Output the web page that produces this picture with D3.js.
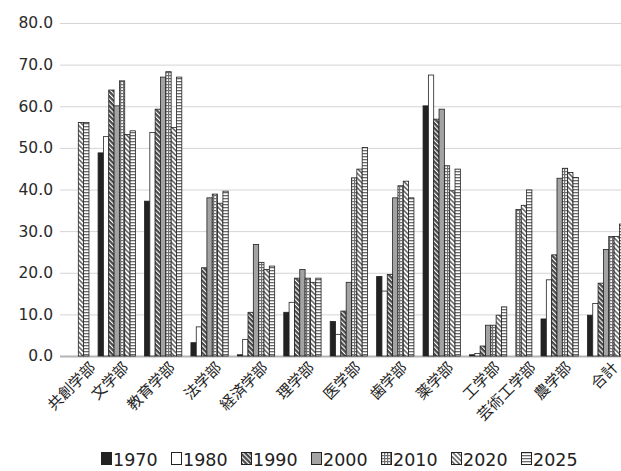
<!DOCTYPE html>
<html>
<head>
<meta charset="utf-8">
<script src="https://cdn.jsdelivr.net/npm/d3@7"></script>
<style>
  body { margin: 0; background: #fff; }
  svg { display: block; }
</style>
</head>
<body>
<svg id="chart" width="621" height="471"></svg>
<script>
// Faculties (categories) and survey years (series)
const categories = ["共創学部", "文学部", "教育学部", "法学部", "経済学部", "理学部", "医学部",
                    "歯学部", "薬学部", "工学部", "芸術工学部", "農学部", "合計"];
const years = ["1970", "1980", "1990", "2000", "2010", "2020", "2025"];

// Values per year, one entry per faculty (null = no data for that year)
const s1970 = [null, 48.8, 37.2, 3.2, 0.3, 10.5, 8.3, 19.1, 60.1, 0.3, null, 8.9, 9.8];
const s1980 = [null, 52.7, 53.7, 7.0, 4.0, 12.9, 5.2, 15.6, 67.5, 0.6, null, 18.3, 12.6];
const s1990 = [null, 63.9, 59.3, 21.2, 10.5, 18.7, 10.8, 19.6, 56.9, 2.4, null, 24.3, 17.5];
const s2000 = [null, 60.1, 67.0, 38.0, 26.8, 20.8, 17.7, 38.0, 59.3, 7.4, null, 42.7, 25.6];
const s2010 = [null, 66.1, 68.3, 38.9, 22.5, 18.7, 42.8, 40.9, 45.7, 7.4, 35.2, 45.1, 28.7];
const s2020 = [56.1, 53.2, 54.9, 36.7, 20.8, 17.7, 44.9, 42.0, 39.7, 9.8, 36.2, 44.1, 28.7];
const s2025 = [56.1, 54.1, 67.0, 39.6, 21.6, 18.7, 50.1, 38.0, 44.9, 11.8, 39.9, 42.9, 31.7];
const seriesValues = [s1970, s1980, s1990, s2000, s2010, s2020, s2025];

const yTicks = [0, 10, 20, 30, 40, 50, 60, 70, 80];

// ---- layout ----
const W = 621, H = 471;
const plotLeft = 60, plotTop = 23, plotBottom = 356;
const barW = 5.33;       // width of one bar in px
const gapUnits = 1.71;   // gap between faculty groups, in bar widths
const leadPx = 18.3;     // space before the first group

const svg = d3.select("#chart");

// ---- fills ----
const defs = svg.append("defs");
const ink = "#222";

function stripes(id, bg, fg, size, lineW, angle) {
  const p = defs.append("pattern")
    .attr("id", id)
    .attr("patternUnits", "userSpaceOnUse")
    .attr("width", size).attr("height", size)
    .attr("patternTransform", `rotate(${angle})`);
  p.append("rect").attr("width", size).attr("height", size).attr("fill", bg);
  p.append("rect").attr("x", 0).attr("y", 0).attr("width", lineW).attr("height", size).attr("fill", fg);
}
stripes("p1990", "#4a4a4a", "#ffffff", 3.4, 1.1, -45);
stripes("p2020", "#ffffff", "#6a6a6a", 3.4, 1.6, -45);
stripes("p2025", "#ffffff", "#6a6a6a", 3, 1.3, 90);
{
  const p = defs.append("pattern")
    .attr("id", "p2010")
    .attr("patternUnits", "userSpaceOnUse")
    .attr("width", 3).attr("height", 3);
  p.append("rect").attr("width", 3).attr("height", 3).attr("fill", "#ffffff");
  p.append("rect").attr("x", 0).attr("y", 0).attr("width", 3).attr("height", 1.2).attr("fill", "#707070");
  p.append("rect").attr("x", 0).attr("y", 0).attr("width", 1.2).attr("height", 3).attr("fill", "#707070");
}
const fills = ["#222222", "#ffffff", "url(#p1990)", "#a3a3a3", "url(#p2010)", "url(#p2020)", "url(#p2025)"];

// ---- scales ----
const y = d3.scaleLinear().domain([0, 80]).range([plotBottom, plotTop]);

// Each faculty only takes room for the years it has data for
const groups = [];
let cursor = 0;
categories.forEach((cat, ci) => {
  const bars = [];
  years.forEach((yr, si) => {
    const v = seriesValues[si][ci];
    if (v !== null && v !== undefined) bars.push({ cat, year: yr, si, value: v });
  });
  bars.forEach((b, k) => { b.pos = cursor + k; });
  groups.push({ cat, start: cursor, n: bars.length, bars });
  cursor += bars.length + gapUnits;
});

// x maps bar-slot units to pixels
const x = d3.scaleLinear()
  .domain([0, 1])
  .range([plotLeft + leadPx, plotLeft + leadPx + barW]);

// ---- gridlines and y labels ----
const yAxis = d3.axisLeft(y)
  .tickValues(yTicks)
  .tickFormat(d3.format(".1f"))
  .tickSize(-(W - plotLeft))
  .tickPadding(7);

const gy = svg.append("g")
  .attr("transform", `translate(${plotLeft},0)`)
  .call(yAxis);
gy.select(".domain").remove();
gy.selectAll(".tick line")
  .attr("stroke", d => d === 0 ? "#b4b4b4" : "#d4d4d4")
  .attr("stroke-width", d => d === 0 ? 2 : 1);
gy.selectAll(".tick text")
  .attr("fill", "#2a2a2a")
  .style("font-family", "'DejaVu Sans', sans-serif")
  .style("font-size", "15.5px");

// ---- bars ----
const allBars = groups.flatMap(g => g.bars);
svg.append("g")
  .selectAll("rect")
  .data(allBars)
  .join("rect")
  .attr("x", d => x(d.pos))
  .attr("width", barW)
  .attr("y", d => y(d.value))
  .attr("height", d => y(0) - y(d.value))
  .attr("fill", d => fills[d.si])
  .attr("stroke", ink)
  .attr("stroke-width", 0.8);

// ---- category labels ----
svg.append("g")
  .selectAll("text")
  .data(groups)
  .join("text")
  .attr("transform", g => `translate(${x(g.start + g.n / 2) + 9},${plotBottom + 9}) rotate(-45)`)
  .attr("text-anchor", "end")
  .attr("dy", "0.35em")
  .attr("fill", "#1e1e1e")
  .style("font-family", "'Noto Sans CJK JP', sans-serif")
  .style("font-size", "15px")
  .text(g => g.cat);

// ---- legend ----
const legend = svg.append("g").attr("transform", "translate(101,452)");
const item = legend.selectAll("g")
  .data(years)
  .join("g")
  .attr("transform", (d, i) => `translate(${i * 70},0)`);
item.append("rect")
  .attr("x", 0.5).attr("y", 0.5)
  .attr("width", 10).attr("height", 12)
  .attr("fill", (d, i) => fills[i])
  .attr("stroke", ink)
  .attr("stroke-width", 1);
item.append("text")
  .attr("x", 12)
  .attr("y", 13.5)
  .attr("fill", "#222")
  .style("font-family", "'DejaVu Sans', sans-serif")
  .style("font-size", "17.5px")
  .text(d => d);
</script>
</body>
</html>
